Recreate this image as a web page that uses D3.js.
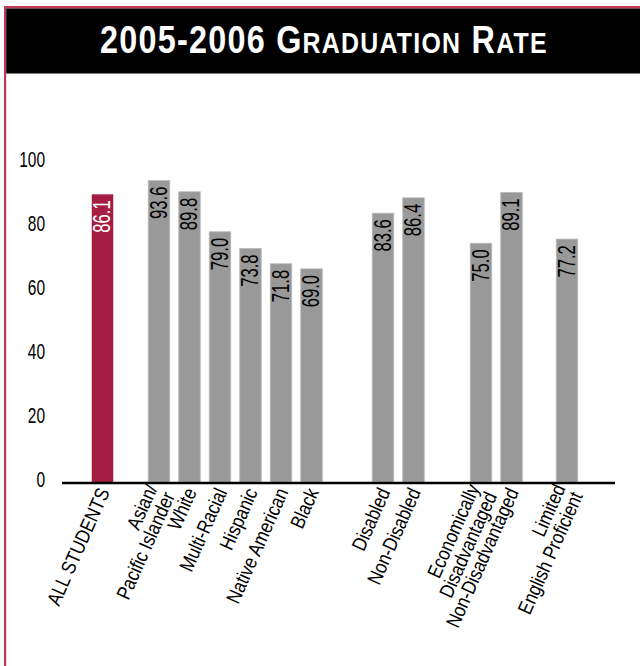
<!DOCTYPE html>
<html>
<head>
<meta charset="utf-8">
<script src="https://cdn.jsdelivr.net/npm/d3@7/dist/d3.min.js"></script>
<style>
  html, body { margin: 0; padding: 0; background: #fff; }
  svg { display: block; }
  text { font-family: "Liberation Sans", Arial, sans-serif; }
</style>
</head>
<body>
<svg id="chart" width="640" height="666"></svg>
<script>
// ---- data ----
const categoryLines = [
  ["ALL STUDENTS"],
  ["Asian/", "Pacific Islander"],
  ["White"],
  ["Multi-Racial"],
  ["Hispanic"],
  ["Native American"],
  ["Black"],
  ["Disabled"],
  ["Non-Disabled"],
  ["Economically", "Disadvantaged"],
  ["Non-Disadvantaged"],
  ["Limited", "English Proficient"]
];
const groupIndex = [0, 1, 1, 1, 1, 1, 1, 2, 2, 3, 3, 4];
const barValues = [89.9, 94.2, 90.7, 78.2, 73.0, 68.2, 66.6, 84.0, 88.8, 74.6, 90.5, 75.9];
const valueLabels = ["86.1", "93.6", "89.8", "79.0", "73.8", "71.8", "69.0", "83.6", "86.4", "75.0", "89.1", "77.2"];
const yTicks = [0, 20, 40, 60, 80, 100];
const titleParts = [
  { t: "2005-2006 G", big: true },
  { t: "RADUATION", big: false },
  { t: " R", big: true },
  { t: "ATE", big: false }
];

// ---- layout ----
const svg = d3.select("#chart");
const frameColor = "#bf3a56";
const redColor = "#a51e42";
const grayColor = "#999999";
const groupGap = [0, 26, 67, 104, 129];

// frame
svg.append("rect").attr("x", 4).attr("y", 6).attr("width", 636).attr("height", 2.5).attr("fill", frameColor);
svg.append("rect").attr("x", 4).attr("y", 6).attr("width", 2.2).attr("height", 660).attr("fill", frameColor);
svg.append("rect").attr("x", 6.2).attr("y", 8.5).attr("width", 634).attr("height", 65).attr("fill", "#000");

// title
const title = svg.append("text")
  .attr("x", 0).attr("y", 0)
  .attr("fill", "#fff").attr("font-weight", "bold")
  .attr("letter-spacing", 1.5);
title.selectAll("tspan").data(titleParts).join("tspan")
  .attr("font-size", d => d.big ? 39 : 30)
  .text(d => d.t);
const tw = title.node().getComputedTextLength();
const titleWidth = 448;
title.attr("transform", `translate(${100},${52.5}) scale(${titleWidth / tw},1)`);

// scales
const y = d3.scaleLinear().domain([0, 100]).range([482, 162]);
const step = 30.5, firstCenter = 102.5, n = barValues.length;
const x = d3.scaleBand().domain(d3.range(n))
  .range([firstCenter - step / 2, firstCenter - step / 2 + n * step])
  .paddingInner(0.295).paddingOuter(0.1475);
const cx = i => x(i) + x.bandwidth() / 2 + groupGap[groupIndex[i]];

// y tick labels
const tickG = svg.append("g");
tickG.selectAll("g").data(yTicks).join("g")
  .attr("transform", d => `translate(45,${y(d) - 3}) scale(0.72,1)`)
  .append("text")
  .attr("text-anchor", "end")
  .attr("dy", "0.36em")
  .attr("font-size", 21.5)
  .attr("fill", "#000")
  .text(d => d);

// bars
svg.append("g").selectAll("rect").data(barValues).join("rect")
  .attr("x", (d, i) => cx(i) - x.bandwidth() / 2)
  .attr("y", d => y(d))
  .attr("width", x.bandwidth())
  .attr("height", d => y(0) - y(d))
  .attr("fill", (d, i) => i === 0 ? redColor : grayColor)
  .attr("stroke", (d, i) => i === 0 ? "none" : "#b8b8b8")
  .attr("stroke-width", 0.8);

// value labels inside bars
svg.append("g").selectAll("g").data(barValues).join("g")
  .attr("transform", (d, i) => `translate(${cx(i) - 1},${y(d) + 6}) rotate(-90) scale(0.68,1)`)
  .append("text")
  .attr("text-anchor", "end")
  .attr("dy", "0.36em")
  .attr("font-size", 24.5)
  .attr("fill", (d, i) => i === 0 ? "#fff" : "#000")
  .text((d, i) => valueLabels[i]);

// baseline
svg.append("line")
  .attr("x1", 62).attr("x2", 615)
  .attr("y1", y(0) + 1).attr("y2", y(0) + 1)
  .attr("stroke", "#000").attr("stroke-width", 2.6);

// category labels
const lh = 19;
const catG = svg.append("g").selectAll("g").data(categoryLines).join("g")
  .attr("transform", (d, i) => `translate(${cx(i) + 1},489) rotate(-66) scale(0.85,1)`);
catG.each(function(lines) {
  const g = d3.select(this);
  lines.forEach((line, k) => {
    g.append("text")
      .attr("text-anchor", "end")
      .attr("y", (k - (lines.length - 1) / 2) * lh)
      .attr("dy", "0.36em")
      .attr("font-size", 20)
      .attr("fill", "#000")
      .text(line);
  });
});
</script>
</body>
</html>
